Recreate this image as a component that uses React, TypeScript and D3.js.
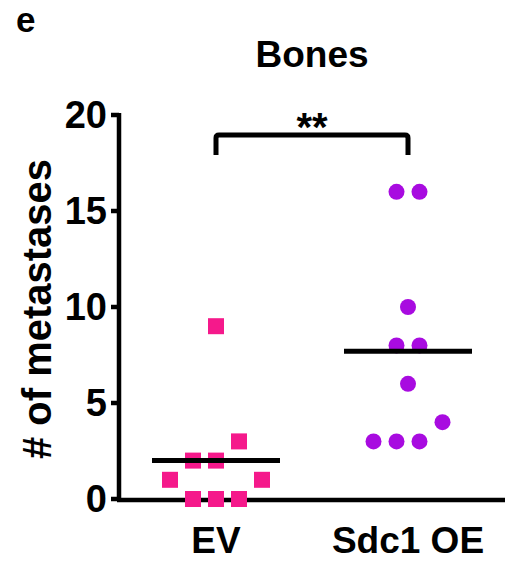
import * as d3 from "d3";

const groups = ["EV", "Sdc1 OE"];

// each point: value, slot = sideways place in half-marker steps
const evValues = [9, 3, 2, 2, 1, 1, 0, 0, 0];
const evSlots = [0, 2, -2, 0, -4, 4, -2, 0, 2];
const oeValues = [16, 16, 10, 8, 8, 6, 4, 3, 3, 3];
const oeSlots = [-1, 1, 0, -1, 1, 0, 3, -3, -1, 1];

const yTicks = [0, 5, 10, 15, 20];

const W = 505;
const H = 562;
const FONT = "'Liberation Sans', Arial, sans-serif";
const pink = "#f5198b";
const purple = "#a80be0";

export default function App() {
  const x = d3.scalePoint().domain(groups).range([120, 504]).padding(0.5);
  const y = d3.scaleLinear().domain([0, 20]).range([499, 115]);
  const slot = d3.scaleLinear().domain([0, 1]).range([0, 11.5]);

  const ev = evValues.map((v, i) => ({ v, s: evSlots[i] }));
  const oe = oeValues.map((v, i) => ({ v, s: oeSlots[i] }));
  const means = [d3.mean(evValues) ?? 0, d3.mean(oeValues) ?? 0];

  const axisX = 119;
  const bracketY = 135;
  const x0 = x(groups[0])!;
  const x1 = x(groups[1])!;

  return (
    <svg
      width={W}
      height={H}
      style={{ position: "absolute", left: 0, top: 0, background: "#fff" }}
      fontFamily={FONT}
      fontWeight="bold"
    >
      <text x={16} y={32} fontSize={35}>e</text>
      <text x={312} y={67} fontSize={37} textAnchor="middle">Bones</text>

      {/* y axis */}
      <line x1={axisX} x2={axisX} y1={y(20) - 2} y2={y(0) + 2} stroke="#000" strokeWidth={4.5} />
      {yTicks.map((t) => (
        <g key={t}>
          <line x1={axisX - 8} x2={axisX} y1={y(t)} y2={y(t)} stroke="#000" strokeWidth={4.5} />
          <text x={107} y={y(t) + 13} fontSize={38} textAnchor="end">{t}</text>
        </g>
      ))}
      <text
        transform={`translate(51, ${y(10) + 2}) rotate(-90)`}
        fontSize={40}
        textAnchor="middle"
      >
        # of metastases
      </text>

      {/* x axis */}
      <line x1={axisX - 2} x2={W} y1={y(0) + 1} y2={y(0) + 1} stroke="#000" strokeWidth={4.5} />
      {groups.map((g) => (
        <text key={g} x={x(g)} y={553} fontSize={37} textAnchor="middle">{g}</text>
      ))}

      {/* points */}
      {ev.map((d, i) => (
        <rect
          key={"ev" + i}
          x={x0 + slot(d.s) - 8}
          y={y(d.v) - 8}
          width={16}
          height={16}
          fill={pink}
        />
      ))}
      {oe.map((d, i) => (
        <circle key={"oe" + i} cx={x1 + slot(d.s)} cy={y(d.v)} r={8} fill={purple} />
      ))}

      {/* means */}
      {groups.map((g, i) => (
        <line
          key={"m" + g}
          x1={x(g)! - 64}
          x2={x(g)! + 64}
          y1={y(means[i])}
          y2={y(means[i])}
          stroke="#000"
          strokeWidth={5}
        />
      ))}

      {/* significance bracket */}
      <path
        d={`M${x0},155 V${bracketY + 3} Q${x0},${bracketY} ${x0 + 3},${bracketY} H${x1 - 3} Q${x1},${bracketY} ${x1},${bracketY + 3} V155`}
        fill="none"
        stroke="#000"
        strokeWidth={5}
      />
      <text x={(x0 + x1) / 2} y={141} fontSize={40} textAnchor="middle">**</text>
    </svg>
  );
}
